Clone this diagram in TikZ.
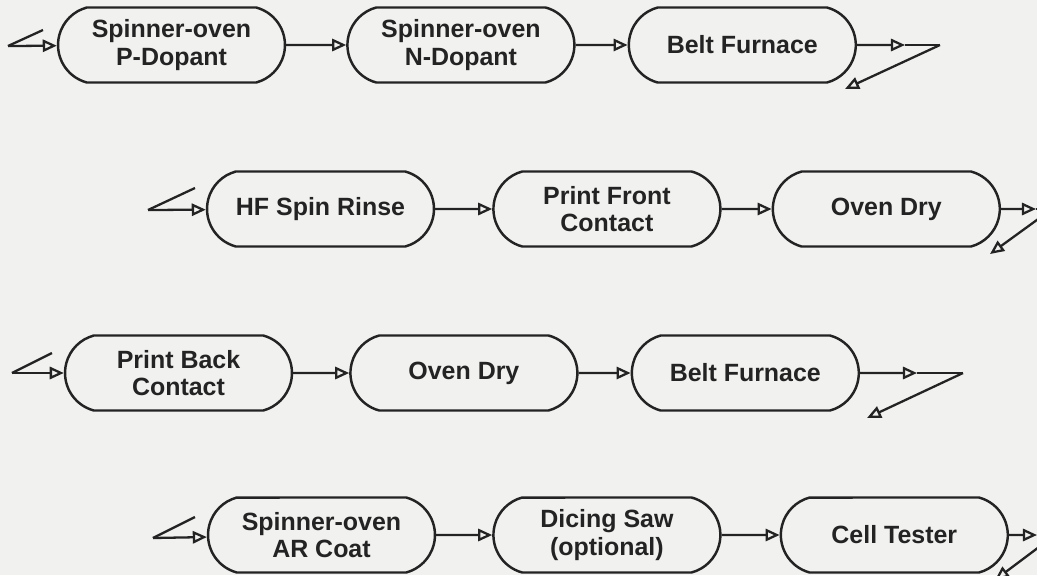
\documentclass[tikz,border=0pt]{standalone}
\usepackage{fontspec}
\setmainfont{Liberation Sans}
\usetikzlibrary{positioning,arrows.meta,shapes.misc}
\definecolor{paper}{RGB}{241,241,239}
\definecolor{ink}{RGB}{35,35,35}

\begin{document}
\begin{tikzpicture}[x=0.02cm, y=-0.02cm,
    font=\fontsize{14.2}{15.5}\selectfont\bfseries,
    stage/.style={draw=ink, line width=1.4pt, rounded rectangle, rounded rectangle arc length=150,
      minimum width=4.54cm, minimum height=1.5cm, align=center, text=ink, inner sep=0pt},
    flow/.style={draw=ink, line width=1.3pt, -{Triangle[open, length=8pt, width=7pt]}},
    link/.style={draw=ink, line width=1.3pt}]
  \useasboundingbox (0,0) rectangle (1037,575);
  \fill[paper] (0,0) rectangle (1037,575);
  \clip (0,0) rectangle (1037,575);
  % row 1
  \node[stage] (pdop) at (171.5,45) {Spinner-oven\\P-Dopant};
  \node[stage, right=1.2cm of pdop] (ndop) {Spinner-oven\\N-Dopant};
  \node[stage, right=1.04cm of ndop] (belt1) {Belt Furnace};
  \coordinate (in1) at (8,46);
  \coordinate (in1t) at (43,30);
  \coordinate (m1) at (905,45);
  \coordinate (c1) at (940,45);
  \coordinate (out1) at (845,89);
  \draw[flow] (in1) -- (pdop);
  \draw[link] (in1) -- (in1t);
  \draw[flow] (pdop) -- (ndop);
  \draw[flow] (ndop) -- (belt1);
  \draw[flow] (belt1) -- (m1);
  \draw[link] (m1) -- (c1);
  \draw[flow] (c1) -- (out1);
  % row 2
  \node[stage] (hf) at (320.5,209) {HF Spin Rinse};
  \node[stage, right=1.14cm of hf] (front) {Print Front\\Contact};
  \node[stage, right=1.0cm of front] (dry1) {Oven Dry};
  \coordinate (in2) at (148,210);
  \coordinate (in2t) at (195,188);
  \coordinate (m2) at (1036,209);
  \coordinate (c2) at (1052,209);
  \coordinate (out2) at (990,254);
  \draw[flow] (in2) -- (hf);
  \draw[link] (in2) -- (in2t);
  \draw[flow] (hf) -- (front);
  \draw[flow] (front) -- (dry1);
  \draw[flow] (dry1) -- (m2);
  \draw[link] (m2) -- (c2);
  \draw[flow] (c2) -- (out2);
  % row 3
  \node[stage] (back) at (178.5,373) {Print Back\\Contact};
  \node[stage, right=1.12cm of back] (dry2) {Oven Dry};
  \node[stage, right=1.04cm of dry2] (belt2) {Belt Furnace};
  \coordinate (in3) at (12,373);
  \coordinate (in3t) at (52,353);
  \coordinate (m3) at (917,373);
  \coordinate (c3) at (963,373);
  \coordinate (out3) at (867,418);
  \draw[flow] (in3) -- (back);
  \draw[link] (in3) -- (in3t);
  \draw[flow] (back) -- (dry2);
  \draw[flow] (dry2) -- (belt2);
  \draw[flow] (belt2) -- (m3);
  \draw[link] (m3) -- (c3);
  \draw[flow] (c3) -- (out3);
  % row 4
  \node[stage] (arc) at (321.5,535) {Spinner-oven\\AR Coat};
  \node[stage, right=1.12cm of arc] (saw) {Dicing Saw\\(optional)};
  \node[stage, right=1.16cm of saw] (tester) {Cell Tester};
  \coordinate (in4) at (153,538);
  \coordinate (in4t) at (195,517);
  \coordinate (m4) at (1037,535);
  \coordinate (c4) at (1055,535);
  \coordinate (out4) at (995,580);
  \draw[flow] (in4) -- (arc);
  \draw[link] (in4) -- (in4t);
  \draw[flow] (arc) -- (saw);
  \draw[flow] (saw) -- (tester);
  \draw[flow] (tester) -- (m4);
  \draw[link] (m4) -- (c4);
  \draw[flow] (c4) -- (out4);
\end{tikzpicture}
\end{document}
